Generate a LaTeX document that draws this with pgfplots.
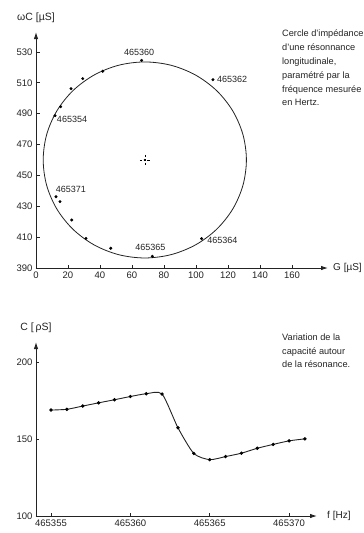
\documentclass[border=0pt]{standalone}
\usepackage{fontspec}
\setmainfont{Liberation Sans}
\usepackage{pgfplots}
\pgfplotsset{compat=1.18}
\usetikzlibrary{arrows.meta}
\definecolor{ink}{RGB}{35,35,35}
\begin{document}
\begin{tikzpicture}
\path[use as bounding box] (0pt,0pt) rectangle (364pt,-533pt);
\pgfplotsset{
  myaxis/.style={
    scale only axis,
    axis lines=left,
    axis line style={ink, line width=0.9pt, -{Latex[length=7pt,width=4.5pt]}},
    tick style={ink, line width=0.7pt},
    tick align=inside,
    major tick length=3.5pt,
    tick label style={font=\fontsize{9.5}{11}\selectfont, text=ink},
    /pgf/number format/assume math mode=true,
    /pgf/number format/1000 sep={},
    clip=false,
  }
}
% ---------- top: impedance circle ----------
\begin{axis}[myaxis,
  at={(36pt,-268pt)}, anchor=south west,
  width=292pt, height=236pt,
  xmin=0, xmax=182.5, ymin=390, ymax=542.9,
  xtick={0,20,...,160}, ytick={390,410,...,530},
]
\addplot[ink, line width=0.8pt, smooth cycle, tension=0.55] coordinates {
(131.5,460) (129.34,476.43) (122.99,491.75) (112.90,504.90) (99.75,514.99)
(84.43,521.34) (68,523.5) (51.57,521.34) (36.25,514.99) (23.10,504.90)
(13.01,491.75) (6.66,476.43) (4.5,460) (6.66,443.57) (13.01,428.25)
(23.10,415.10) (36.25,405.01) (51.57,398.66) (68,396.5) (84.43,398.66)
(99.75,405.01) (112.90,415.10) (122.99,428.25) (129.34,443.57)};
\addplot[only marks, mark=*, mark size=1.3pt, color=black] coordinates {
(11.9,488.7) (15.4,494.5) (21.9,506.2) (29.2,512.7) (41.7,517.5)
(66,524.5) (110.6,512) (103.5,409) (72.7,397.6) (46.7,402.8)
(31.25,409.2) (22.3,421.1) (15,433) (12.5,436.2)};
\addplot[only marks, mark=+, mark size=5pt, color=black,
  mark options={line width=0.6pt, dash pattern=on 2.2pt off 1.6pt}] coordinates {(68,460)};
\addplot[only marks, mark=*, mark size=0.8pt, color=black] coordinates {(68,460)};
\begin{scope}[every node/.style={font=\fontsize{9}{10}\selectfont, text=ink, inner sep=0pt}]
\node[anchor=south] at (axis cs:64.5,527.5) {465360};
\node[anchor=west] at (axis cs:113,512) {465362};
\node[anchor=west] at (axis cs:13,486.5) {465354};
\node[anchor=south west] at (axis cs:12.3,438.5) {465371};
\node[anchor=south] at (axis cs:71.5,401) {465365};
\node[anchor=west] at (axis cs:107,408) {465364};
\end{scope}
\end{axis}
\node[anchor=center, font=\fontsize{10.5}{12}\selectfont, text=ink] at (36pt,-18pt) {ωC [µS]};
\node[anchor=west, font=\fontsize{10}{12}\selectfont, text=ink, inner sep=0pt] at (333pt,-268pt) {G [µS]};
\node[anchor=north west, align=left, inner sep=0pt, text=ink,
  font=\fontsize{9.2}{13.8}\selectfont] at (282pt,-30pt) {Cercle d'impédance\\d'une résonnance\\longitudinale,\\paramétré par la\\fréquence mesurée\\en Hertz.};
% ---------- bottom: capacitance ----------
\begin{axis}[myaxis,
  at={(36pt,-516pt)}, anchor=south west,
  width=281pt, height=174pt,
  xmin=-0.945, xmax=16.76, ymin=100, ymax=213,
  xtick={0,5,10,15}, xticklabels={465355,465360,465365,465370},
  ytick={100,150,200},
]
\addplot[ink, line width=0.9pt, smooth, tension=0.4, mark=*, mark size=1.2pt,
  mark options={fill=black, draw=black}] coordinates {
(0,168.8) (1,169.3) (2,171.4) (3,173.5) (4,175.5) (5,177.6) (6,179.4) (7,179.2)
(8,157.3) (9,140.6) (10,136.6) (11,138.6) (12,140.8) (13,144.0) (14,146.5)
(15,148.8) (16,150.1)};
\end{axis}
\node[anchor=center, font=\fontsize{10.5}{12}\selectfont, text=ink] at (36pt,-328pt) {C [\,ρS]};
\node[anchor=west, font=\fontsize{10}{12}\selectfont, text=ink, inner sep=0pt] at (327pt,-516pt) {f [Hz]};
\node[anchor=north west, align=left, inner sep=0pt, text=ink,
  font=\fontsize{9.2}{13.2}\selectfont] at (282pt,-334pt) {Variation de la\\capacité autour\\de la résonance.};
\end{tikzpicture}
\end{document}
